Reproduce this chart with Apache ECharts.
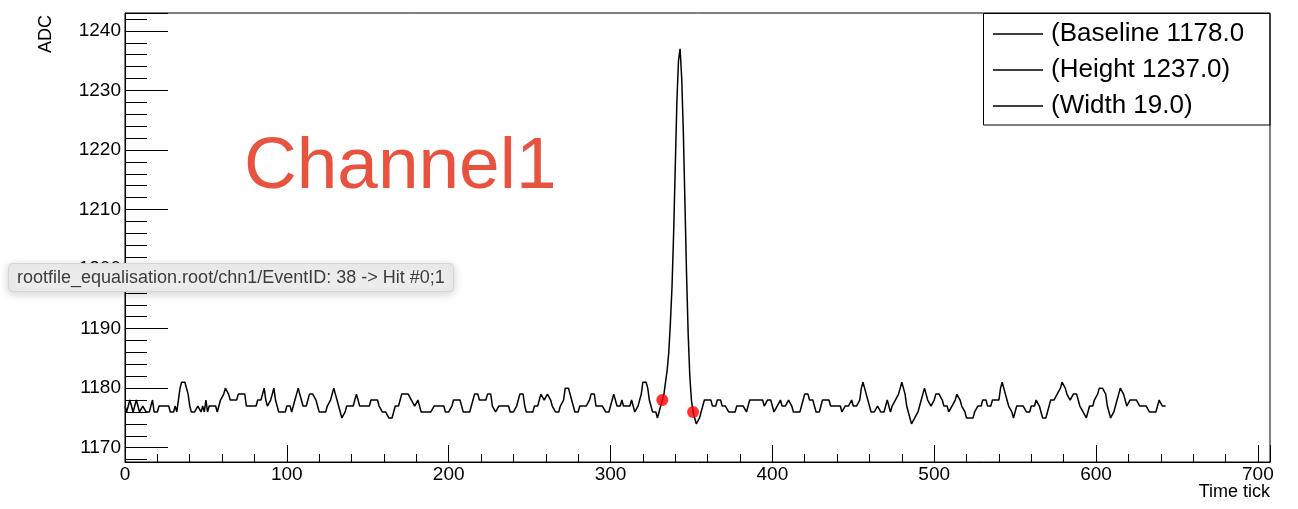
<!DOCTYPE html>
<html>
<head>
<meta charset="utf-8">
<script src="https://cdn.jsdelivr.net/npm/echarts@6/dist/echarts.min.js"></script>
<style>
html,body{margin:0;padding:0;background:#fff;}
#chart{width:1298px;height:509px;}
</style>
</head>
<body>
<div id="chart"></div>
<script>
// ADC waveform, one value per time tick (starting at tick 0)
const adcValues = [
1177,1176,1177,1178,1177,1176,1177,1178,1177,1176,1176,1177,1177,1176,1176,1176,1177,1178,1176,1176,
1176,1177,1177,1177,1177,1177,1177,1177,1176,1176,1176,1177,1176,1178,1180,1181,1181,1181,1181,1179,
1177,1176,1176,1176,1176,1177,1177,1176,1177,1176,1178,1176,1177,1177,1177,1177,1177,1176,1177,1178,
1178,1179,1180,1180,1179,1178,1178,1178,1178,1178,1179,1179,1179,1179,1179,1177,1177,1177,1177,1177,
1177,1177,1178,1178,1178,1179,1180,1178,1177,1177,1178,1179,1180,1178,1177,1176,1176,1176,1176,1176,
1177,1177,1177,1176,1177,1178,1179,1180,1179,1178,1177,1177,1177,1178,1179,1179,1179,1179,1178,1177,
1176,1176,1176,1176,1176,1177,1177,1178,1179,1180,1179,1178,1177,1176,1175,1175,1176,1177,1177,1177,
1177,1177,1178,1179,1178,1177,1177,1177,1177,1177,1177,1177,1178,1178,1178,1178,1178,1177,1177,1176,
1176,1176,1176,1175,1175,1175,1176,1177,1177,1177,1178,1179,1179,1179,1179,1179,1179,1178,1178,1177,
1177,1178,1177,1176,1176,1176,1176,1176,1176,1176,1176,1177,1177,1177,1177,1177,1177,1177,1176,1176,
1176,1176,1177,1178,1178,1178,1178,1178,1177,1176,1176,1176,1176,1176,1176,1178,1179,1179,1179,1178,
1178,1178,1178,1178,1179,1179,1179,1177,1177,1176,1176,1177,1177,1177,1177,1177,1177,1177,1176,1176,
1176,1176,1177,1178,1179,1179,1179,1177,1176,1176,1176,1176,1176,1177,1177,1177,1178,1179,1179,1178,
1178,1179,1179,1178,1177,1177,1176,1176,1176,1177,1177,1178,1180,1180,1180,1180,1178,1177,1176,1176,
1176,1177,1177,1177,1177,1177,1177,1178,1179,1179,1179,1177,1177,1177,1177,1177,1177,1176,1176,1176,
1177,1178,1179,1178,1177,1177,1177,1178,1177,1177,1177,1177,1177,1178,1177,1176,1176,1177,1177,1179,
1181,1181,1181,1180,1178,1177,1176,1176,1176,1175,1176,1177,1178,1179,1181,1183,1186,1191,1197,1206,
1217,1228,1235,1237,1232,1223,1211,1199,1189,1182,1178,1176,1175,1174,1174,1175,1176,1177,1178,1178,
1178,1178,1178,1177,1177,1177,1178,1178,1178,1177,1177,1177,1177,1176,1176,1176,1176,1176,1177,1177,
1177,1177,1177,1177,1176,1177,1178,1178,1178,1178,1178,1178,1178,1178,1178,1177,1177,1178,1178,1178,
1177,1176,1176,1177,1177,1178,1177,1177,1177,1177,1178,1178,1177,1176,1176,1176,1176,1176,1177,1178,
1179,1179,1179,1178,1178,1178,1177,1176,1176,1176,1177,1178,1178,1178,1178,1178,1177,1177,1177,1177,
1177,1177,1177,1176,1176,1177,1177,1177,1177,1178,1177,1177,1177,1177,1178,1180,1181,1180,1179,1178,
1177,1176,1176,1176,1176,1177,1177,1176,1176,1176,1177,1178,1177,1176,1177,1177,1178,1178,1179,1180,
1181,1180,1179,1177,1176,1175,1174,1174,1175,1175,1176,1177,1178,1179,1180,1179,1178,1178,1177,1177,
1178,1179,1179,1179,1179,1178,1177,1177,1177,1176,1176,1177,1177,1178,1179,1179,1178,1177,1177,1176,
1175,1175,1175,1175,1175,1176,1176,1177,1177,1177,1178,1178,1178,1177,1177,1177,1178,1178,1178,1178,
1178,1180,1181,1180,1179,1178,1177,1177,1176,1175,1176,1177,1177,1177,1177,1177,1177,1176,1176,1176,
1177,1177,1177,1178,1178,1177,1176,1175,1175,1175,1176,1177,1178,1178,1178,1178,1179,1179,1180,1181,
1181,1180,1179,1179,1178,1178,1179,1179,1179,1178,1177,1177,1176,1176,1175,1176,1177,1177,1177,1178,
1178,1179,1180,1180,1180,1180,1179,1177,1176,1175,1175,1176,1177,1178,1179,1180,1180,1179,1178,1177,
1177,1178,1178,1178,1178,1178,1178,1177,1177,1177,1177,1177,1177,1176,1176,1176,1176,1176,1177,1178,
1178,1177,1177,1177
];
// Hit boundary markers (time tick, ADC)
const hitTicks = [332, 351];
const hitAdc = [1178, 1176];
// Legend entries
const legendLabels = ['(Baseline 1178.0', '(Height 1237.0)', '(Width 19.0)'];
const chartTitle = 'Channel1';
const fileLabel = 'rootfile_equalisation.root/chn1/EventID: 38 -> Hit #0;1';
const xAxisTitle = 'Time tick';
const yAxisTitle = 'ADC';

const FONT = 'Liberation Sans';
const waveform = adcValues.map((v, i) => [i, v]);
const hits = hitTicks.map((t, i) => [t, hitAdc[i]]);

const chart = echarts.init(document.getElementById('chart'), null, {renderer: 'canvas'});
const option = {
  animation: false,
  backgroundColor: '#ffffff',
  textStyle: {fontFamily: FONT},
  title: [
    {text: chartTitle, left: 244, top: 131, padding: 0,
     textStyle: {fontFamily: FONT, fontSize: 73, fontWeight: 'normal', color: '#e8533f'}},
    {text: fileLabel, left: 8, top: 263, padding: [5, 9, 4, 9],
     backgroundColor: '#ececec', borderColor: '#d6d6d6', borderWidth: 1, borderRadius: 4,
     shadowColor: 'rgba(0,0,0,0.18)', shadowBlur: 8, shadowOffsetY: 2,
     textStyle: {fontFamily: FONT, fontSize: 18, fontWeight: 'normal', color: '#3c3c3c', lineHeight: 20}}
  ],
  grid: {left: 125, right: 28, top: 13, bottom: 47, show: true, borderColor: '#000', borderWidth: 1,
         backgroundColor: 'transparent', containLabel: false},
  legend: {
    orient: 'vertical', left: 993, top: 21, padding: 0,
    icon: 'rect', itemWidth: 50, itemHeight: 1.6, itemGap: 10,
    data: legendLabels,
    textStyle: {fontFamily: FONT, fontSize: 26, color: '#000', lineHeight: 25, padding: [0, 0, 0, 3]},
    selectedMode: false
  },
  xAxis: {
    type: 'value', min: 0, max: 707.5, interval: 100,
    axisLine: {show: true, lineStyle: {color: '#000', width: 1}},
    axisTick: {show: true, inside: true, length: 17, lineStyle: {color: '#000', width: 1}},
    minorTick: {show: true, splitNumber: 5, length: 8, lineStyle: {color: '#000', width: 1}},
    splitLine: {show: false},
    axisLabel: {fontFamily: FONT, fontSize: 19, color: '#000', margin: 3, showMaxLabel: false,
                formatter: (v) => String(v)}
  },
  yAxis: {
    type: 'value', min: 1167.6, max: 1243, splitNumber: 8,
    axisLine: {show: true, lineStyle: {color: '#000', width: 1}},
    axisTick: {show: true, inside: true, length: 43, lineStyle: {color: '#000', width: 1}},
    minorTick: {show: true, splitNumber: 5, length: 22, lineStyle: {color: '#000', width: 1}},
    splitLine: {show: false},
    axisLabel: {fontFamily: FONT, fontSize: 19, color: '#000', margin: 4, showMinLabel: false, showMaxLabel: false,
                formatter: (v) => String(v)}
  },
  graphic: [
    {type: 'rect', shape: {x: 983.5, y: 13.5, width: 286.5, height: 111.5},
     style: {fill: 'none', stroke: '#000', lineWidth: 1}, z: 10},
    {type: 'text', x: 46, y: 34, rotation: Math.PI / 2,
     style: {text: yAxisTitle, fontFamily: FONT, fontSize: 18, fill: '#000', align: 'center', verticalAlign: 'middle'}},
    {type: 'text', x: 1270, y: 492,
     style: {text: xAxisTitle, fontFamily: FONT, fontSize: 18, fill: '#000', align: 'right', verticalAlign: 'middle'}}
  ],
  series: [
    {name: 'waveform', type: 'line', data: waveform, showSymbol: false, smooth: false,
     lineStyle: {color: '#000', width: 1.5}, itemStyle: {color: '#000'}, z: 3},
    {name: 'hits', type: 'scatter', data: hits, symbol: 'circle', symbolSize: 12,
     itemStyle: {color: '#ff0000'}, z: 5},
    {name: legendLabels[0], type: 'line', data: [], itemStyle: {color: '#000'}, lineStyle: {color: '#000'}},
    {name: legendLabels[1], type: 'line', data: [], itemStyle: {color: '#000'}, lineStyle: {color: '#000'}},
    {name: legendLabels[2], type: 'line', data: [], itemStyle: {color: '#000'}, lineStyle: {color: '#000'}}
  ]
};
chart.setOption(option);
</script>
</body>
</html>
